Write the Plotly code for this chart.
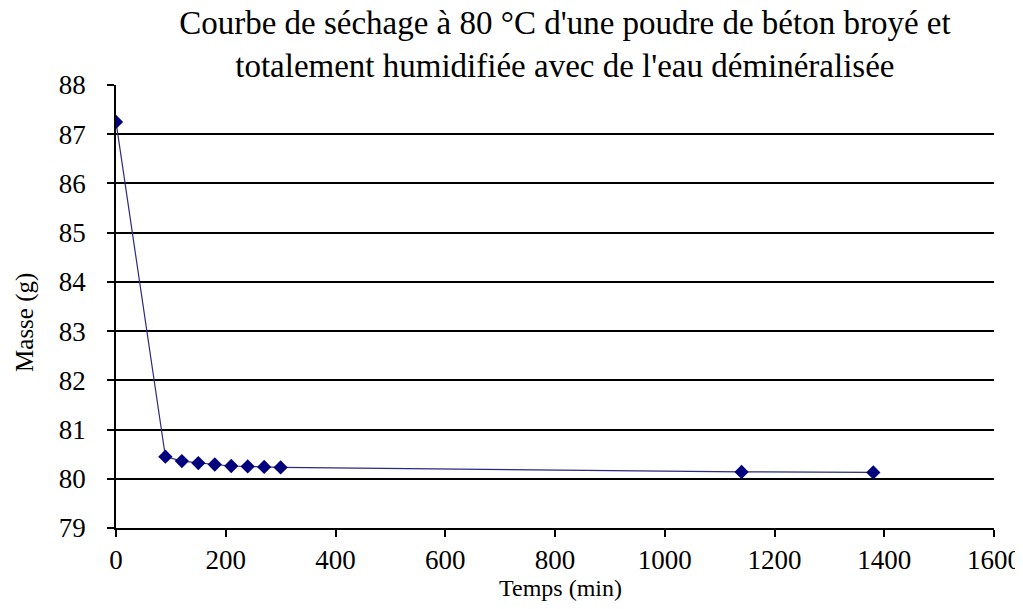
import plotly.graph_objects as go

temps_min = [0, 90, 120, 150, 180, 210, 240, 270, 300, 1140, 1380]
masse_g = [87.25, 80.45, 80.36, 80.32, 80.29, 80.26, 80.25, 80.24, 80.23, 80.14, 80.13]

title_lines = ["Courbe de séchage à 80 °C d'une poudre de béton broyé et",
               "totalement humidifiée avec de l'eau déminéralisée"]
x_title = "Temps (min)"
y_title = "Masse (g)"

FONT = "Liberation Serif"

fig = go.Figure()
fig.add_trace(go.Scatter(
    x=temps_min, y=masse_g, mode="lines+markers",
    line=dict(color="#2A2A80", width=1.2),
    marker=dict(symbol="diamond", size=11, color="#00007F",
                line=dict(width=0)),
    showlegend=False,
))

fig.update_layout(
    width=1007, height=593,
    paper_bgcolor="white", plot_bgcolor="white",
    margin=dict(l=108, r=21, t=77, b=73, autoexpand=False),
    font=dict(family=FONT, color="black", size=26),
    title=dict(text="<br>".join(title_lines), x=0.553, xanchor="center",
               y=0.956, yanchor="top",
               font=dict(family=FONT, size=33, color="black")),
    annotations=[
        dict(text=x_title, xref="paper", yref="paper", x=0.5057, y=-0.1345,
             xanchor="center", yanchor="middle", showarrow=False,
             font=dict(family=FONT, size=24, color="black")),
        dict(text=y_title, xref="paper", yref="paper", x=-0.1036, y=0.463,
             xanchor="center", yanchor="middle", showarrow=False, textangle=-90,
             font=dict(family=FONT, size=25, color="black")),
    ],
)
fig.update_xaxes(
    range=[0, 1600], dtick=200, tick0=0,
    showgrid=False, zeroline=False, automargin=False,
    showline=True, linecolor="black", linewidth=1.5,
    ticks="outside", ticklen=7, tickcolor="black", tickwidth=1.5,
    ticklabelstandoff=0, ticklabeloverflow="allow",
    tickfont=dict(family=FONT, size=27),
)
fig.update_yaxes(
    range=[79, 88], dtick=1, tick0=79,
    showgrid=True, gridcolor="black", gridwidth=1.5,
    zeroline=False, automargin=False,
    showline=True, linecolor="black", linewidth=1.5,
    ticks="outside", ticklen=7, tickcolor="black", tickwidth=1.5,
    ticklabelstandoff=16,
    tickfont=dict(family=FONT, size=27),
)

fig.write_html("out.html")
